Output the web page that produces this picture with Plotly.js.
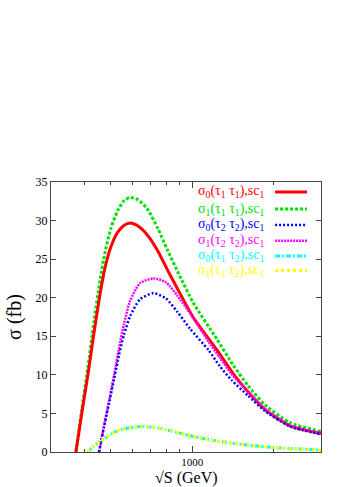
<!DOCTYPE html>
<html>
<head>
<meta charset="utf-8">
<script src="https://cdn.plot.ly/plotly-3.0.1.min.js"></script>
<style>
  html, body { margin: 0; padding: 0; background: #fff; }
  #chart { width: 341px; height: 487px; }
</style>
</head>
<body>
<div id="chart"></div>
<script>
// sqrt(S) in GeV, sigma in fb
var sRedGreen = [371, 390, 411, 433, 456, 475, 500, 530, 560, 589, 630, 680, 748, 807, 900, 1007, 1236, 1416, 1610, 1861, 2304, 3000];
var sig0t1t1 = [0, 5, 10, 15.5, 20.5, 23.8, 26.6, 28.5, 29.4, 29.7, 29.3, 28.2, 26.0, 23.7, 20.6, 17.5, 13.2, 10.2, 7.8, 5.5, 3.4, 2.4];
var sig1t1t1 = [0, 5.5, 11, 17, 22.3, 25.8, 29.0, 31.3, 32.6, 33.0, 32.7, 31.6, 28.9, 26.3, 22.8, 19.4, 14.6, 11.3, 8.6, 6.1, 3.8, 2.65];

var sT2 = [452, 471, 492, 514, 536, 559, 589, 641, 720, 800, 880, 981, 1150, 1267, 1400, 1610, 1861, 2304, 3000];
var sig0t2t2 = [0, 3.2, 6.3, 9.5, 12.6, 15.2, 17.6, 19.8, 20.6, 19.9, 18.2, 16.0, 13.2, 11.1, 9.3, 7.3, 5.3, 3.3, 2.3];
var sig1t2t2 = [0, 3.3, 6.6, 10, 13.5, 16.6, 19.6, 21.9, 22.5, 22.0, 20.3, 18.0, 14.3, 12.2, 10.1, 7.8, 5.6, 3.4, 2.45];

var sT1T2 = [411, 430, 455, 490, 518, 550, 589, 650, 720, 800, 900, 1000, 1200, 1400, 1700, 2000, 2500, 3000];
var sig0t1t2 = [0, 0.7, 1.35, 2.1, 2.6, 2.95, 3.15, 3.3, 3.2, 2.9, 2.45, 2.05, 1.5, 1.15, 0.8, 0.58, 0.38, 0.26];
var sig1t1t2 = [0, 0.7, 1.35, 2.1, 2.6, 2.95, 3.15, 3.3, 3.2, 2.9, 2.45, 2.05, 1.5, 1.15, 0.8, 0.58, 0.38, 0.26];

var names = [
  'σ<sub>0</sub>(τ<sub>1</sub> τ<sub>1</sub>),sc<sub>1</sub>',
  'σ<sub>1</sub>(τ<sub>1</sub> τ<sub>1</sub>),sc<sub>1</sub>',
  'σ<sub>0</sub>(τ<sub>2</sub> τ<sub>2</sub>),sc<sub>1</sub>',
  'σ<sub>1</sub>(τ<sub>2</sub> τ<sub>2</sub>),sc<sub>1</sub>',
  'σ<sub>0</sub>(τ<sub>1</sub> τ<sub>2</sub>),sc<sub>1</sub>',
  'σ<sub>1</sub>(τ<sub>1</sub> τ<sub>2</sub>),sc<sub>1</sub>'
];
var colors = ['#ff0000', '#00e000', '#0000ff', '#ff00ff', '#00ffff', '#ffff00'];
var dashes = ['solid', '3px,2px', '2px,2px', '2px,1px', '5px,2px,2px,2px', '3px,3px'];
var widths = [3, 3, 2.5, 2.5, 3, 3];

var xs = [sRedGreen, sRedGreen, sT2, sT2, sT1T2, sT1T2];
var ys = [sig0t1t1, sig1t1t1, sig0t2t2, sig1t2t2, sig0t1t2, sig1t1t2];

var serif = '"Liberation Serif", serif';

var data = [];
var order = [1, 0, 3, 2, 4, 5];
order.forEach(function(i) {
  data.push({
    x: xs[i],
    y: ys[i],
    type: 'scatter',
    mode: 'lines',
    name: names[i],
    line: {color: colors[i], width: widths[i], dash: dashes[i], shape: 'spline', smoothing: 0.6},
    showlegend: false,
    hoverinfo: 'skip'
  });
});

// legend drawn by hand: text right aligned, line sample to its right
var legendY = [0.963, 0.900, 0.841, 0.782, 0.726, 0.672];
var annotations = [];
var shapes = [];
for (var i = 0; i < names.length; i++) {
  annotations.push({
    xref: 'paper', yref: 'paper',
    x: 0.80, y: legendY[i],
    xanchor: 'right', yanchor: 'middle',
    text: names[i],
    showarrow: false,
    font: {family: serif, size: 14, color: colors[i]}
  });
  shapes.push({
    type: 'line', xref: 'paper', yref: 'paper',
    x0: 0.83, x1: 0.948, y0: legendY[i], y1: legendY[i],
    line: {color: colors[i], width: widths[i], dash: dashes[i]}
  });
}

// x title as annotation so it clears the "1000" label
annotations.push({
  xref: 'paper', yref: 'paper',
  x: 0.5, y: -0.097,
  xanchor: 'center', yanchor: 'middle',
  text: '√S (GeV)',
  showarrow: false,
  borderpad: 0,
  font: {family: serif, size: 16, color: '#000'}
});

var layout = {
  width: 341,
  height: 487,
  margin: {l: 51, r: 20, t: 182, b: 35},
  paper_bgcolor: '#fff',
  plot_bgcolor: '#fff',
  showlegend: false,
  font: {family: serif, size: 11, color: '#000'},
  xaxis: {
    type: 'log',
    range: [Math.log10(300), Math.log10(3000)],
    tickmode: 'array',
    tickvals: [1000],
    ticktext: ['1000'],
    ticks: 'inside',
    ticklen: 6,
    tickcolor: '#444',
    minor: {tickmode: 'array', tickvals: [400, 500, 600, 700, 800, 900, 2000], ticks: 'inside', ticklen: 3, tickcolor: '#444'},
    showgrid: false,
    zeroline: false,
    showline: true,
    linecolor: '#444',
    linewidth: 1,
    mirror: 'ticks',
    tickfont: {family: serif, size: 11}
  },
  yaxis: {
    range: [0, 35],
    tickvals: [0, 5, 10, 15, 20, 25, 30, 35],
    ticks: 'inside',
    ticklen: 5,
    tickcolor: '#444',
    showgrid: false,
    zeroline: false,
    showline: true,
    linecolor: '#444',
    linewidth: 1,
    mirror: 'ticks',
    tickfont: {family: serif, size: 12},
    title: {text: 'σ (fb)', font: {family: serif, size: 20}, standoff: 8}
  },
  annotations: annotations,
  shapes: shapes
};

Plotly.newPlot('chart', data, layout, {displayModeBar: false, staticPlot: true});
</script>
</body>
</html>
